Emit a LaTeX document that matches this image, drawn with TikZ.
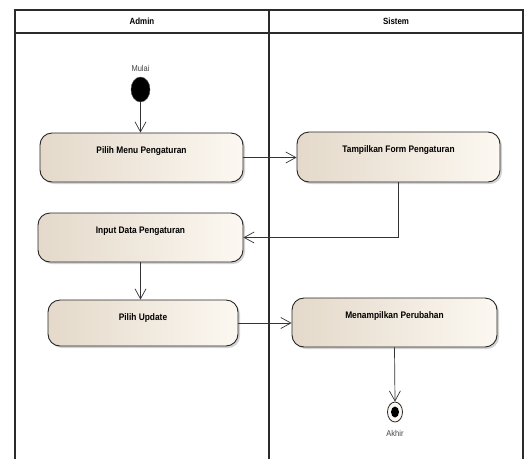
\documentclass[tikz,border=0pt]{standalone}
\usepackage{fontspec}
\setmainfont{Liberation Sans}
\newfontfamily\narrowfont{Liberation Sans}[FakeStretch=0.88]
\usepackage{tikz}
\usetikzlibrary{arrows.meta,shapes.geometric,shadows}
\definecolor{actleft}{HTML}{E4D9CA}
\definecolor{actright}{HTML}{FCF8F1}
\definecolor{lanegray}{HTML}{2B2B2B}

\begin{document}
\begin{tikzpicture}[x=1pt,y=-1pt,
		act/.style={draw=black!85,line width=0.9pt,rounded corners=12pt,left color=actleft,right color=actright,
			drop shadow={shadow xshift=2pt,shadow yshift=-2pt,opacity=0.35},
			font=\narrowfont\bfseries\fontsize{9.5}{11}\selectfont,text height=16pt,inner sep=4pt},
		flow/.style={-{Straight Barb[length=10pt,width=11pt]},line width=0.7pt,black!80},
		lane/.style={line width=1.2pt,lanegray},
		small/.style={font=\narrowfont\fontsize{8.5}{10}\selectfont,text=black!75}]
			\useasboundingbox (0,0) rectangle (525,459);
			\draw[lane] (15,459) -- (15,10) -- (523,10) -- (523,459);
			\draw[lane] (15,33) -- (523,33);
			\draw[lane] (269,10) -- (269,459);
			\node[font=\narrowfont\bfseries\fontsize{9}{10}\selectfont] (admin) at (142,21.5) {Admin};
			\node[font=\narrowfont\bfseries\fontsize{9}{10}\selectfont] (sistem) at (396,21.5) {Sistem};
			\foreach \name/\px/\py/\w/\d/\txt in {menu/141.5/157.5/203/25/Pilih Menu Pengaturan,
				form/398.5/157/203/26/Tampilkan Form Pengaturan,
				input/140.5/237.5/205/25/Input Data Pengaturan,
				update/143/323/190/22/Pilih Update,
				tampil/394.5/322.5/205/25/Menampilkan Perubahan}{
				\node[act,minimum width=\w pt,text depth=\d pt] (\name) at (\px,\py) {\txt};
			}
			\node[ellipse,fill=black,draw=black!70,minimum width=19pt,minimum height=25pt,inner sep=0,
				label={[small,label distance=2pt]above:Mulai}] (mulai) at (140.5,89.5) {};
			\node[ellipse,draw=black!85,fill=actright,line width=0.8pt,minimum width=15pt,minimum height=20pt,inner sep=0,
				label={[small,label distance=4pt]below:Akhir}] (akhir) at (395,412) {};
			\node[ellipse,fill=black,minimum width=8pt,minimum height=11pt,inner sep=0] (akhirdot) at (akhir) {};
			\draw[flow] (mulai) -- (mulai |- menu.north);
			\draw[flow] (menu.east) -- (menu.east -| form.west);
			\draw[flow] (form.south) |- (input.east);
			\draw[flow] (input.south) -- (input.south |- update.north);
			\draw[flow] (update.east) -- (update.east -| tampil.west);
			\draw[flow] (tampil.south) -- (akhir.north);
		\end{tikzpicture}
\end{document}
